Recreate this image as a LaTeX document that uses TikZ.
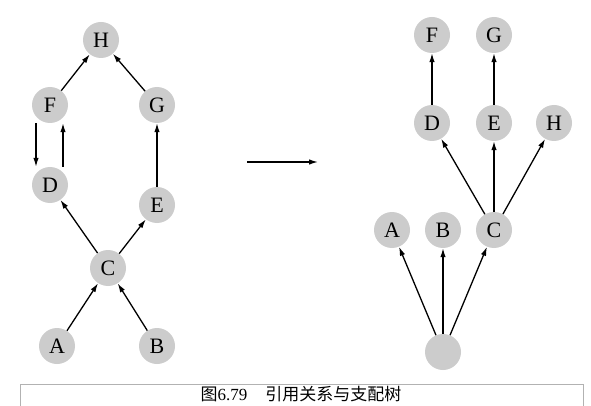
\documentclass[tikz,border=0pt]{standalone}
\usepackage{fontspec}
\setmainfont{Liberation Serif}
\newfontfamily\cjk{Noto Sans CJK SC}
\usepackage{tikz}
\usetikzlibrary{arrows.meta}

\begin{document}
\begin{tikzpicture}[
  x=1pt, y=-1pt,
  vtx/.style={circle, fill=gray!40, minimum size=36pt, inner sep=0pt,
              font=\fontsize{22}{22}\selectfont},
  arrow/.style={-{Latex[length=9pt,width=5.5pt]}, line width=1.3pt},
]
\useasboundingbox (0,0) rectangle (591,406);

% Left: reference graph
\node[vtx] (hL) at (101,40)  {H};
\node[vtx] (fL) at (50,105)  {F};
\node[vtx] (gL) at (157,105) {G};
\node[vtx] (dL) at (50,185)  {D};
\node[vtx] (eL) at (157,205) {E};
\node[vtx] (cL) at (108,268) {C};
\node[vtx] (aL) at (57,346)  {A};
\node[vtx] (bL) at (157,346) {B};

\draw[arrow] (aL) -- (cL);
\draw[arrow] (bL) -- (cL);
\draw[arrow] (cL) -- (dL);
\draw[arrow] (cL) -- (eL);
\draw[arrow] (eL) -- (gL);
\draw[arrow] (gL) -- (hL);
\draw[arrow] (fL) -- (hL);
\draw[arrow] ([xshift=-14pt]fL.south) -- ([xshift=-14pt]dL.north);
\draw[arrow] ([xshift=13pt]dL.north) -- ([xshift=13pt]fL.south);

% Middle arrow
\coordinate (arrL) at (247,162);
\coordinate (arrR) at (318,162);
\draw[arrow] (arrL) -- (arrR);

% Right: dominator tree
\node[vtx] (fR) at (432,35)  {F};
\node[vtx] (gR) at (494,35)  {G};
\node[vtx] (dR) at (432,123) {D};
\node[vtx] (eR) at (494,123) {E};
\node[vtx] (hR) at (554,123) {H};
\node[vtx] (aR) at (392,230) {A};
\node[vtx] (bR) at (443,230) {B};
\node[vtx] (cR) at (494,230) {C};
\node[vtx] (root) at (443,352) {};

\draw[arrow] (root) -- (aR);
\draw[arrow] (root) -- (bR);
\draw[arrow] (root) -- (cR);
\draw[arrow] (cR) -- (dR);
\draw[arrow] (cR) -- (eR);
\draw[arrow] (cR) -- (hR);
\draw[arrow] (dR) -- (fR);
\draw[arrow] (eR) -- (gR);

% Caption
\draw[gray!60, line width=0.8pt] (20,406) -- (20,384) -- (583,384) -- (583,406);
\node[font=\fontsize{17}{17}\selectfont, anchor=base] (cap) at (301,400)
  {{\cjk 图}6.79\hspace{18pt}{\cjk 引用关系与支配树}};
\end{tikzpicture}
\end{document}
